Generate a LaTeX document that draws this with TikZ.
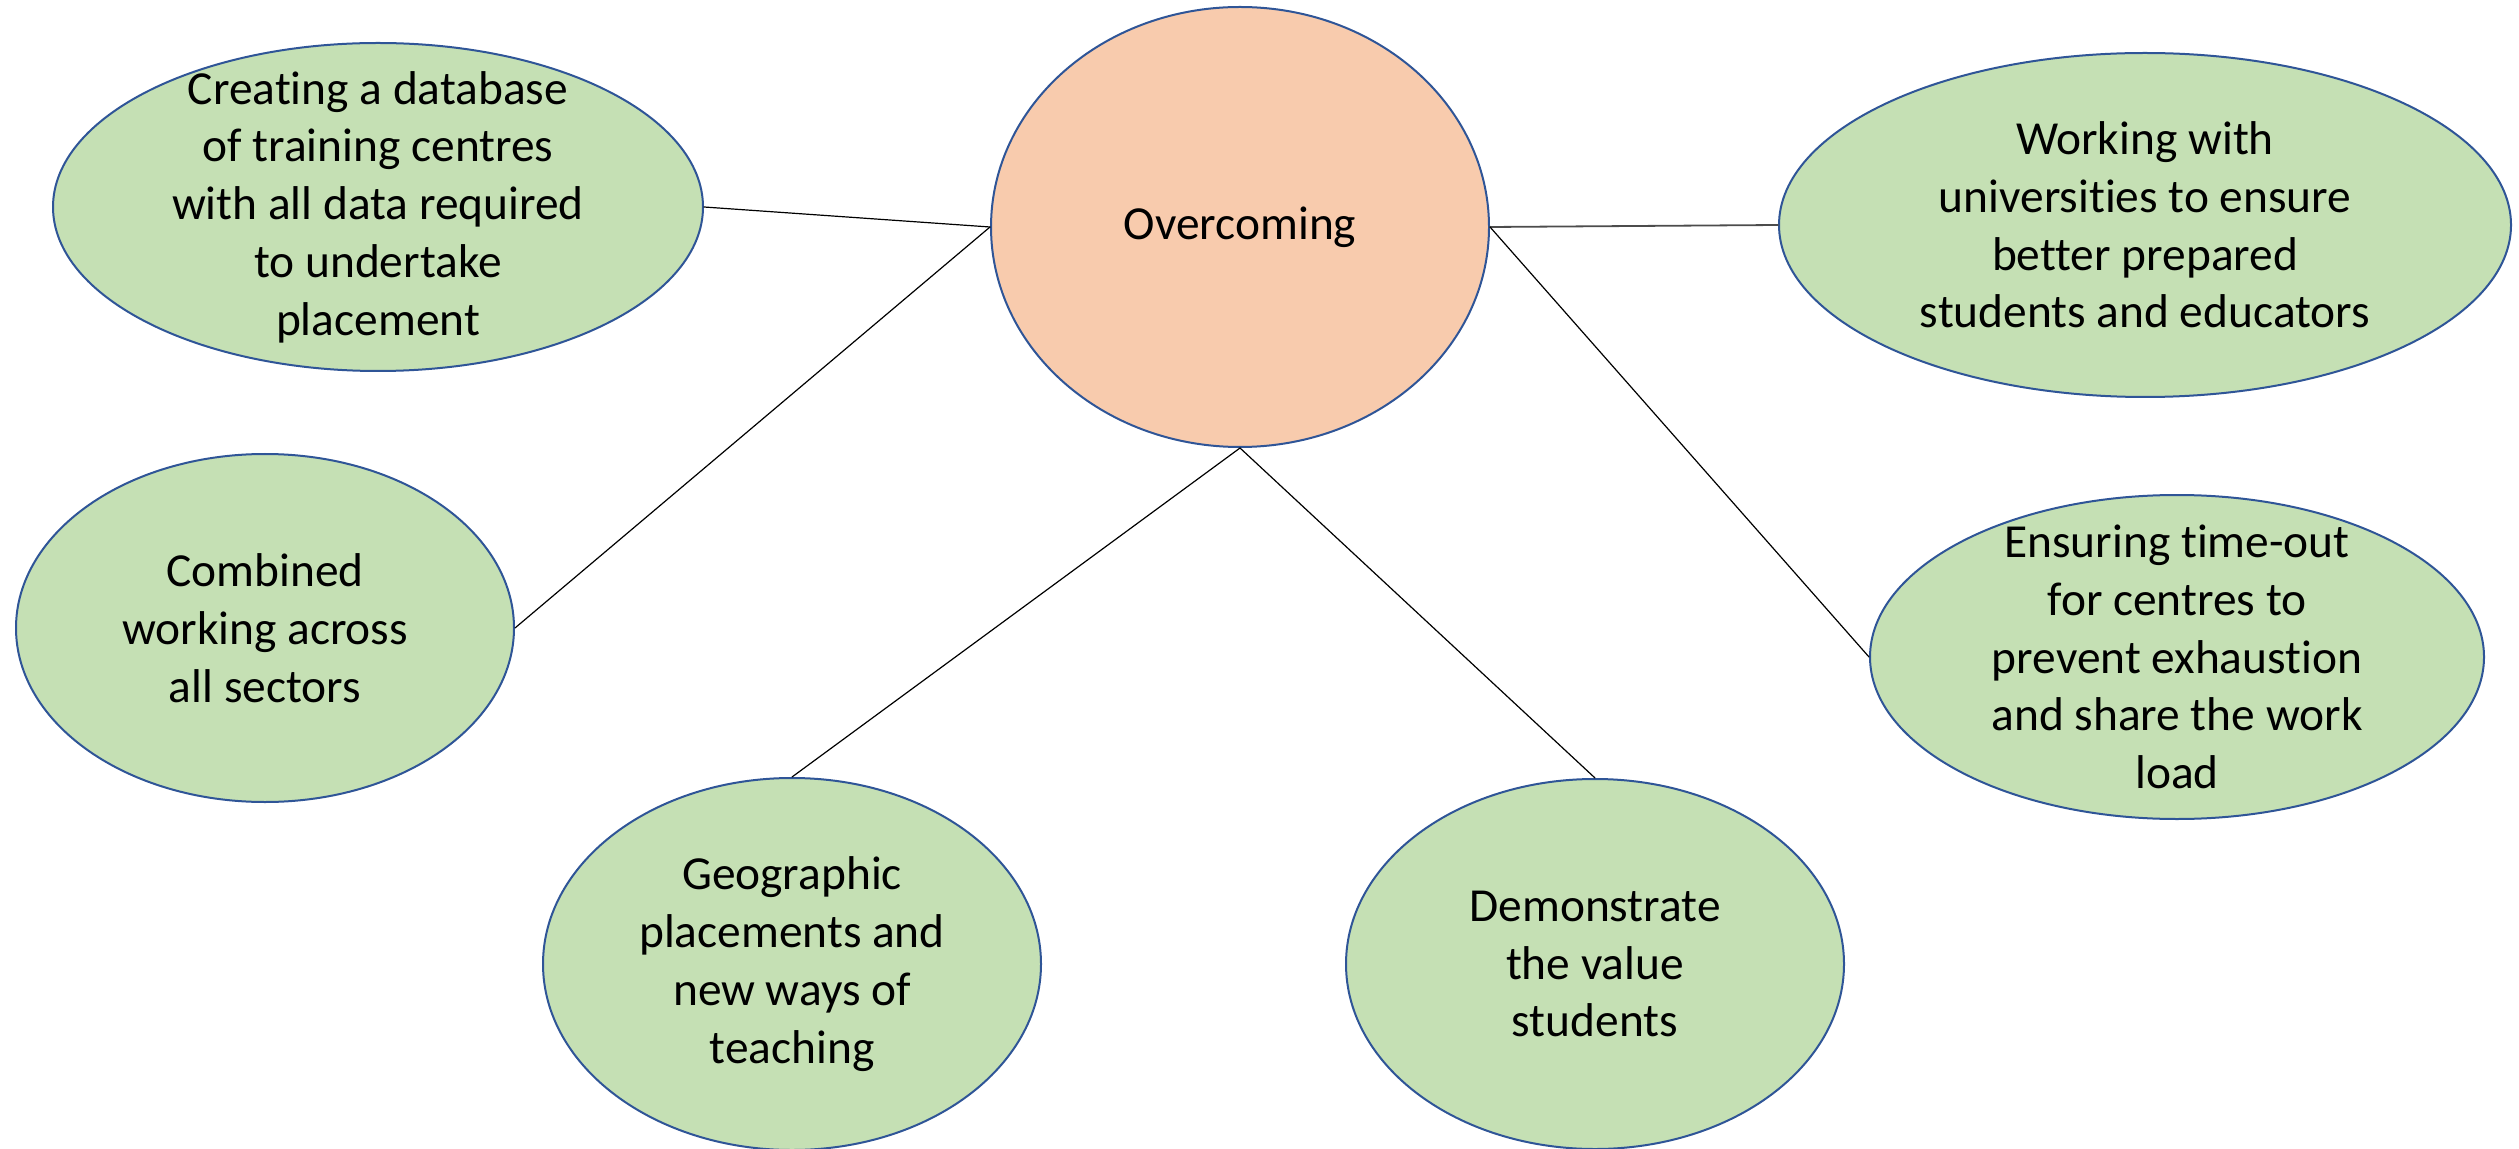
\documentclass[tikz,border=0pt]{standalone}
\usepackage{fontspec}
\setmainfont{Carlito}[Ligatures=CommonOff]
\usetikzlibrary{shapes.geometric}
\definecolor{leaf}{HTML}{C5E0B4}
\definecolor{peach}{HTML}{F8CBAD}
\definecolor{rim}{HTML}{2F5597}
\begin{document}
\begin{tikzpicture}[x=0.5pt,y=-0.5pt,line join=round,line cap=round,
	bubble/.style={ellipse,draw=rim,line width=1pt,fill=leaf,inner sep=0pt,align=center,
		font=\fontsize{23.7pt}{28.9pt}\selectfont},
	hub/.style={bubble,fill=peach},
	link/.style={line width=0.6pt}]
	\useasboundingbox (0,0) rectangle (2519,1149);
	\node[hub,minimum width=249pt,minimum height=220pt] (over) at (1240,227) {Overcoming};
	\node[bubble,inner ysep=-20pt,minimum width=325pt,minimum height=164pt] (data) at (378,207)
		{Creating a database\\of training centres\\with all data required\\to undertake\\placement};
	\node[bubble,minimum width=249pt,minimum height=174pt] (sect) at (265,628)
		{Combined\\working across\\all sectors};
	\node[bubble,minimum width=249pt,minimum height=186pt] (geo) at (792,964)
		{Geographic\\placements and\\new ways of\\teaching};
	\node[bubble,minimum width=249pt,minimum height=185pt] (value) at (1595,964)
		{Demonstrate\\the value\\students};
	\node[bubble,minimum width=366pt,minimum height=172pt] (uni) at (2145,225)
		{Working with\\universities to ensure\\better prepared\\students and educators};
	\node[bubble,inner ysep=-20pt,minimum width=307pt,minimum height=162pt] (rest) at (2177,657)
		{Ensuring time-out\\for centres to\\prevent exhaustion\\and share the work\\load};
	\draw[link] (over.west) -- (data.east);
	\draw[link] (over.west) -- (sect.east);
	\draw[link] (over.south) -- (geo.north);
	\draw[link] (over.south) -- (value.north);
	\draw[link,black!70,line width=0.9pt] (over.east) -- (uni.west);
	\draw[link] (over.east) -- (rest.west);
\end{tikzpicture}
\end{document}
